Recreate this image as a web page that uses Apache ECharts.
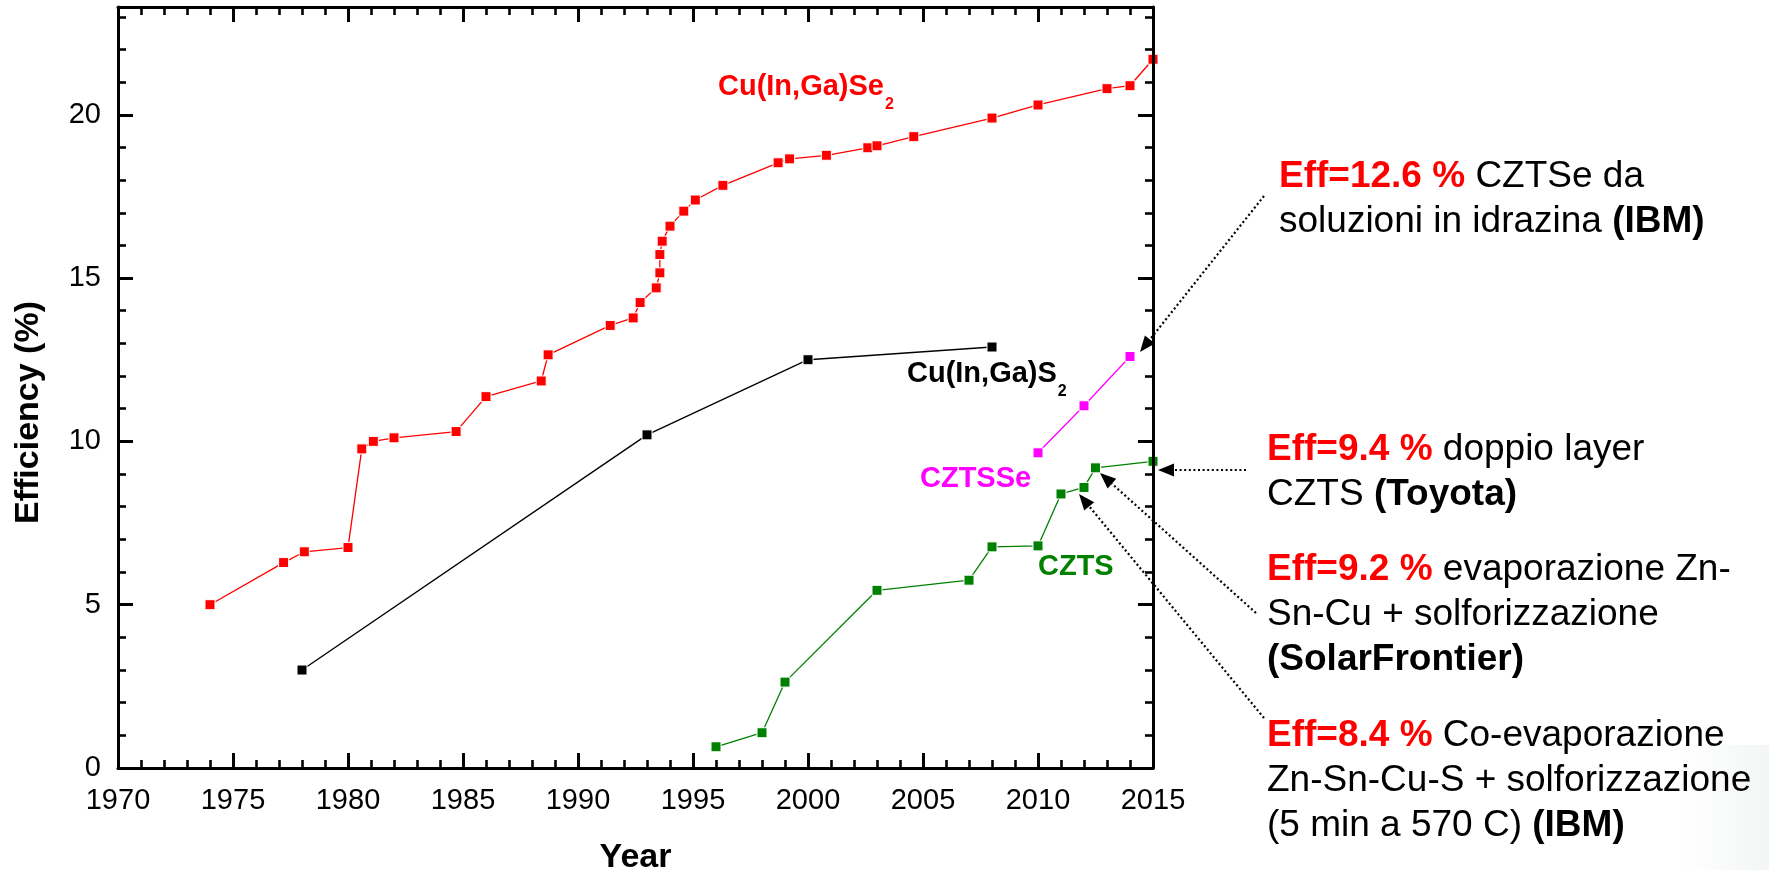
<!DOCTYPE html>
<html>
<head>
<meta charset="utf-8">
<script src="https://cdn.jsdelivr.net/npm/echarts@6/dist/echarts.min.js"></script>
<style>
html,body{margin:0;padding:0;background:#fff;}
#chart{width:1769px;height:870px;}
</style>
</head>
<body>
<div id="chart"></div>
<script>
// ---- Data ----
const xTickLabels = ['1970','1975','1980','1985','1990','1995','2000','2005','2010','2015'];
const yTickLabels = ['0','5','10','15','20'];

const ciigsYears = [1974, 1977.2, 1978.1, 1980, 1980.6, 1981.1, 1982, 1984.7, 1986, 1988.4, 1988.7,
  1991.4, 1992.4, 1992.7, 1993.4, 1993.56, 1993.56, 1993.66, 1994, 1994.6, 1995.1, 1996.3,
  1998.7, 1999.2, 2000.8, 2002.6, 2003, 2004.6, 2008, 2010, 2013, 2014, 2015];
const ciigsEff = [5.0, 6.29, 6.62, 6.75, 9.77, 10.0, 10.11, 10.3, 11.37, 11.85, 12.65,
  13.55, 13.78, 14.25, 14.7, 15.16, 15.72, 16.13, 16.59, 17.05, 17.39, 17.84,
  18.53, 18.65, 18.76, 18.99, 19.05, 19.33, 19.9, 20.3, 20.8, 20.89, 21.7];

const cigsYears = [1978, 1993, 2000, 2008];
const cigsEff = [3.0, 10.2, 12.5, 12.89];

const cztsseYears = [2010, 2012, 2014];
const cztsseEff = [9.65, 11.09, 12.6];

const cztsYears = [1996, 1998, 1999, 2003, 2007, 2008, 2010, 2011, 2012, 2012.5, 2015];
const cztsEff = [0.65, 1.08, 2.63, 5.44, 5.75, 6.77, 6.80, 8.39, 8.59, 9.19, 9.39];

// ---- helpers ----
const FONT = '"Liberation Sans", Arial, Helvetica, sans-serif';
function pairs(xs, ys) { return xs.map((x, i) => [x, ys[i]]); }

function arrow(x1, y1, x2, y2) {
  const dx = x2 - x1, dy = y2 - y1;
  const len = Math.sqrt(dx * dx + dy * dy);
  const ux = dx / len, uy = dy / len;
  const L = 16, W = 6.5;
  const bx = x2 - ux * L, by = y2 - uy * L;
  const px = -uy, py = ux;
  return [
    { type: 'line', silent: true, z: 50,
      shape: { x1: x1, y1: y1, x2: bx, y2: by },
      style: { stroke: '#000', lineWidth: 2.2, lineDash: [2, 2.6] } },
    { type: 'polygon', silent: true, z: 50,
      shape: { points: [[x2, y2], [bx + px * W, by + py * W], [bx - px * W, by - py * W]] },
      style: { fill: '#000' } }
  ];
}

const annRich = {
  r: { fill: '#ff0000', fontWeight: 'bold', fontSize: 37, fontFamily: FONT, lineHeight: 45 },
  n: { fill: '#000', fontSize: 37, fontFamily: FONT, lineHeight: 45 },
  b: { fill: '#000', fontWeight: 'bold', fontSize: 37, fontFamily: FONT, lineHeight: 45 }
};
function annText(x, y, text) {
  return { type: 'text', silent: true, z: 50, x: x, y: y,
    style: { text: text, rich: annRich, verticalAlign: 'top', align: 'left', fontFamily: FONT } };
}
function subLabel(x, y, main, sub, color) {
  return { type: 'text', silent: true, z: 50, x: x, y: y,
    style: {
      text: '{m|' + main + '}{s|' + sub + '}', verticalAlign: 'top', align: 'left',
      rich: {
        m: { fill: color, fontWeight: 'bold', fontSize: 29, fontFamily: FONT, lineHeight: 30, verticalAlign: 'top' },
        s: { fill: color, fontWeight: 'bold', fontSize: 16, fontFamily: FONT, lineHeight: 16, verticalAlign: 'top', padding: [24, 0, 0, 1] }
      }
    } };
}
function plainLabel(x, yCenter, text, color) {
  return { type: 'text', silent: true, z: 50, x: x, y: yCenter,
    style: { text: text, fill: color, fontWeight: 'bold', fontSize: 29, fontFamily: FONT, verticalAlign: 'middle', align: 'left' } };
}

function lineSeries(name, xs, ys, color, width) {
  return {
    name: name, type: 'line', data: pairs(xs, ys),
    symbol: 'rect', symbolSize: 10, showAllSymbol: true,
    lineStyle: { color: color, width: width },
    itemStyle: { color: color, borderColor: '#fff', borderWidth: 1 },
    emphasis: { disabled: true }, animation: false, clip: false
  };
}

const axisCommonX = {
  type: 'value', min: 1970, max: 2015, interval: 5,
  axisLine: { show: true, onZero: false, lineStyle: { color: '#000', width: 3 } },
  axisTick: { show: true, inside: true, length: 15, lineStyle: { color: '#000', width: 3 } },
  minorTick: { show: true, splitNumber: 5, length: 8, lineStyle: { color: '#000', width: 2.6 } },
  splitLine: { show: false }, minorSplitLine: { show: false }
};
const axisCommonY = {
  type: 'value', min: 0, max: 23.3, interval: 5,
  axisLine: { show: true, onZero: false, lineStyle: { color: '#000', width: 3 } },
  axisTick: { show: true, inside: true, length: 15, lineStyle: { color: '#000', width: 3 } },
  minorTick: { show: true, splitNumber: 5, length: 8, lineStyle: { color: '#000', width: 2.6 } },
  splitLine: { show: false }, minorSplitLine: { show: false }
};

const chart = echarts.init(document.getElementById('chart'), null, { renderer: 'canvas' });
chart.setOption({
  backgroundColor: '#fff',
  animation: false,
  grid: { left: 118, top: 7, width: 1035, height: 761, containLabel: false, outerBoundsMode: 'none' },
  xAxis: [
    Object.assign({}, axisCommonX, {
      position: 'bottom',
      axisLabel: { show: true, color: '#000', fontSize: 29, fontFamily: FONT, margin: 18,
        formatter: v => xTickLabels[xTickLabels.indexOf(String(v))] || '' },
      name: 'Year', nameLocation: 'middle', nameGap: 73,
      nameTextStyle: { color: '#000', fontSize: 34, fontWeight: 'bold', fontFamily: FONT }
    }),
    Object.assign({}, axisCommonX, { position: 'top', axisLabel: { show: false } })
  ],
  yAxis: [
    Object.assign({}, axisCommonY, {
      position: 'left',
      axisLabel: { show: true, color: '#000', fontSize: 29, fontFamily: FONT, margin: 17, showMaxLabel: false,
        formatter: v => yTickLabels[yTickLabels.indexOf(String(v))] || '' },
      name: 'Efficiency (%)', nameLocation: 'middle', nameGap: 72, nameRotate: 90,
      nameTextStyle: { color: '#000', fontSize: 34, fontWeight: 'bold', fontFamily: FONT, padding: [0, 50, 0, 0] }
    }),
    Object.assign({}, axisCommonY, { position: 'right', axisLabel: { show: false }, z: 5 })
  ],
  series: [
    lineSeries('Cu(In,Ga)Se2', ciigsYears, ciigsEff, '#ff0000', 1.3),
    lineSeries('Cu(In,Ga)S2', cigsYears, cigsEff, '#000000', 1.4),
    lineSeries('CZTSSe', cztsseYears, cztsseEff, '#ff00ff', 1.3),
    lineSeries('CZTS', cztsYears, cztsEff, '#008000', 1.3)
  ],
  graphic: [
    { type: 'rect', silent: true, z: 0, shape: { x: 1680, y: 745, width: 89, height: 125 },
      style: { fill: { type: 'linear', x: 0, y: 0, x2: 1, y2: 0,
        colorStops: [{ offset: 0, color: 'rgba(240,243,243,0)' }, { offset: 1, color: 'rgba(238,242,242,0.7)' }] } } },
    subLabel(718, 72.5, 'Cu(In,Ga)Se', '2', '#ff0000'),
    subLabel(907, 359.5, 'Cu(In,Ga)S', '2', '#000000'),
    plainLabel(920, 479, 'CZTSSe', '#ff00ff'),
    plainLabel(1038, 567, 'CZTS', '#008000'),
    annText(1279, 154.5, '{r|Eff=12.6 %}{n| CZTSe da}\n{n|soluzioni in idrazina }{b|(IBM)}'),
    annText(1267, 427.5, '{r|Eff=9.4 %}{n| doppio layer}\n{n|CZTS }{b|(Toyota)}'),
    annText(1267, 547.5, '{r|Eff=9.2 %}{n| evaporazione Zn-}\n{n|Sn-Cu + solforizzazione}\n{b|(SolarFrontier)}'),
    annText(1267, 713, '{r|Eff=8.4 %}{n| Co-evaporazione}\n{n|Zn-Sn-Cu-S + solforizzazione}\n{n|(5 min a 570 C) }{b|(IBM)}')
  ].concat(
    arrow(1264, 196, 1140, 352),
    arrow(1246, 470, 1158, 470),
    arrow(1256, 613, 1100, 473),
    arrow(1264, 718, 1079, 494)
  )
});
</script>
</body>
</html>
